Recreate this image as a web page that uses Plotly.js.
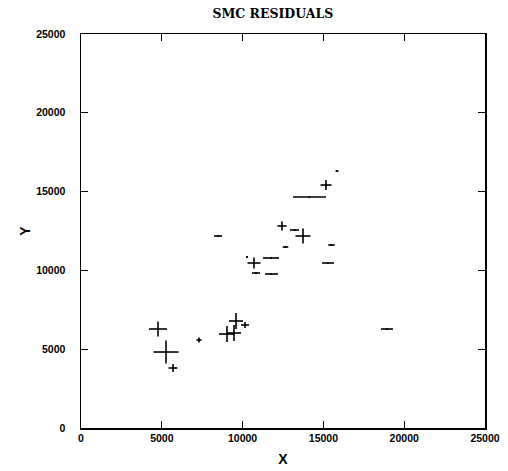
<!DOCTYPE html>
<html>
<head>
<meta charset="utf-8">
<script src="https://cdn.plot.ly/plotly-3.0.1.min.js"></script>
<style>html,body{margin:0;padding:0;background:#fff;}#chart{width:508px;height:471px;}</style>
</head>
<body>
<div id="chart"></div>
<script>
// Residual positions (X, Y) and their residual extents (half-widths)
const xVals = [4765, 5260, 5693, 7302, 9035, 9592, 9468, 10149, 8478, 10272, 10705, 11757, 10829, 11788, 12438, 13212, 13738, 12655, 15500, 15285, 14140, 15161, 15842, 18936];
const yVals = [6282, 4822, 3807, 5584, 5964, 6789, 6028, 6535, 12183, 10850, 10470, 10787, 9835, 9772, 12817, 12563, 12183, 11485, 11612, 10470, 14657, 15419, 16307, 6282];
const xErr  = [557, 773, 278, 155, 495, 433, 433, 250, 250, 60, 400, 495, 250, 400, 280, 280, 464, 175, 205, 370, 1020, 340, 90, 370];
const yErr  = [476, 730, 254, 160, 508, 508, 508, 190, 0, 60, 350, 0, 0, 0, 285, 0, 476, 0, 0, 0, 0, 320, 0, 0];

const titleText = 'SMC RESIDUALS';
const xTitle = 'X';
const yTitle = 'Y';
const tickVals = [0, 5000, 10000, 15000, 20000, 25000];
const tickText = ['0', '5000', '10000', '15000', '20000', '25000'];

const trace = {
  x: xVals,
  y: yVals,
  type: 'scatter',
  mode: 'markers',
  marker: {size: 2, color: '#000', opacity: 1},
  error_x: {type: 'data', array: xErr, symmetric: true, color: '#000', thickness: 1.6, width: 0},
  error_y: {type: 'data', array: yErr, symmetric: true, color: '#000', thickness: 1.6, width: 0},
  hoverinfo: 'skip',
  showlegend: false
};

const tickFont = {family: 'Liberation Sans, Arial, sans-serif', size: 10.5, color: '#000', weight: 'bold'};

const layout = {
  width: 508,
  height: 471,
  margin: {l: 81, r: 23, t: 34, b: 43},
  paper_bgcolor: '#fff',
  plot_bgcolor: '#fff',
  title: {
    text: titleText,
    font: {family: 'DejaVu Serif, serif', size: 12.5, color: '#000', weight: 'bold'},
    x: 0.537, xanchor: 'center', y: 0.972, yanchor: 'middle'
  },
  xaxis: {
    range: [0, 25000],
    tickvals: tickVals, ticktext: tickText,
    ticks: 'inside', ticklen: 7, tickwidth: 1.2, tickcolor: '#000',
    showline: true, linecolor: '#000', linewidth: 1.5, mirror: 'ticks',
    showgrid: false, zeroline: false,
    tickfont: tickFont,
    title: {text: xTitle, font: {family: 'Liberation Sans, Arial, sans-serif', size: 14, color: '#000', weight: 'bold'}, standoff: 11}
  },
  yaxis: {
    range: [0, 25000],
    tickvals: tickVals, ticktext: tickText,
    ticks: 'inside', ticklen: 7, tickwidth: 1.2, tickcolor: '#000',
    showline: true, linecolor: '#000', linewidth: 1.5, mirror: 'ticks',
    showgrid: false, zeroline: false,
    tickfont: tickFont,
    ticklabelstandoff: 12,
    title: {text: yTitle, font: {family: 'Liberation Sans, Arial, sans-serif', size: 14, color: '#000', weight: 'bold'}, standoff: 2}
  }
};

Plotly.newPlot('chart', [trace], layout, {staticPlot: true, displayModeBar: false});
</script>
</body>
</html>
